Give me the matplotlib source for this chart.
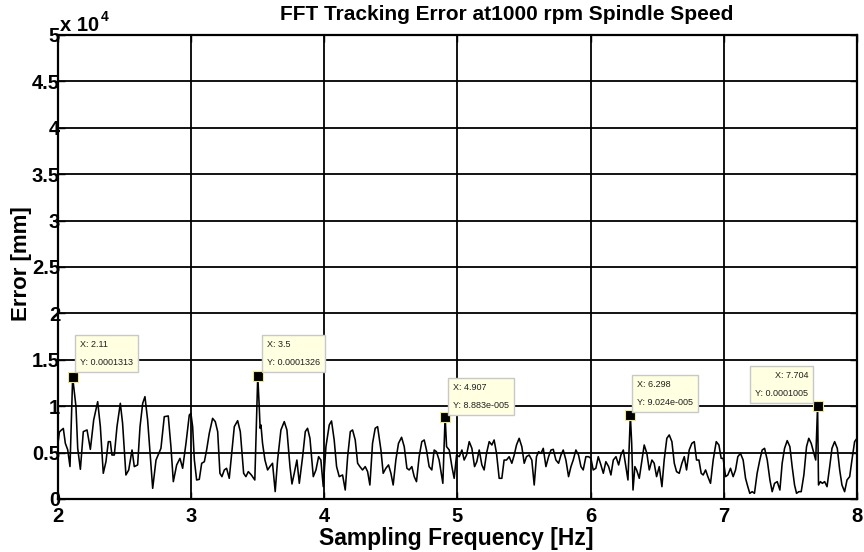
import matplotlib
matplotlib.use("Agg")
import matplotlib.pyplot as plt

plt.rcParams['font.family'] = ['Liberation Sans', 'DejaVu Sans']

# FFT magnitude of the tracking error (frequency in Hz, error in units of 1e-4 mm)
freq_hz = [
    2.000, 2.010, 2.023, 2.040, 2.055, 2.073, 2.090, 2.110, 2.135, 2.148, 2.168, 2.190, 2.218, 2.243,
    2.268, 2.298, 2.318, 2.340, 2.360, 2.378, 2.393, 2.405, 2.423, 2.443, 2.468, 2.485, 2.510, 2.531,
    2.556, 2.573, 2.598, 2.616, 2.636, 2.653, 2.673, 2.711, 2.736, 2.773, 2.798, 2.828, 2.848, 2.866,
    2.891, 2.916, 2.936, 2.961, 2.986, 2.998, 3.011, 3.024, 3.041, 3.061, 3.079, 3.099, 3.116, 3.136,
    3.161, 3.181,
    3.199, 3.216, 3.231, 3.249, 3.266, 3.286, 3.304, 3.324, 3.349, 3.369, 3.394, 3.411, 3.429, 3.452,
    3.478, 3.500, 3.510, 3.518, 3.524, 3.536, 3.554, 3.574, 3.591, 3.611, 3.631, 3.649, 3.674, 3.699,
    3.719, 3.742, 3.757, 3.774, 3.794, 3.812, 3.837, 3.857, 3.874, 3.892, 3.917, 3.937, 3.957, 3.974,
    3.992, 4.012, 4.037, 4.054, 4.074, 4.092, 4.112, 4.137, 4.157, 4.175, 4.195, 4.212, 4.232, 4.250,
    4.267, 4.287, 4.307, 4.325, 4.342, 4.362, 4.382, 4.400,
    4.425, 4.442, 4.462, 4.482, 4.500, 4.517, 4.537, 4.557, 4.580, 4.600, 4.620, 4.637, 4.657, 4.675,
    4.692, 4.712, 4.732, 4.750, 4.767, 4.787, 4.807, 4.825, 4.842, 4.862, 4.890, 4.907, 4.918, 4.938,
    4.958, 4.975, 4.993, 5.013, 5.033, 5.050, 5.068, 5.088, 5.108, 5.128, 5.145, 5.163, 5.183, 5.200,
    5.218, 5.238, 5.258, 5.275, 5.293, 5.313, 5.333, 5.350, 5.368, 5.388, 5.408, 5.426, 5.443, 5.463,
    5.483, 5.501, 5.518, 5.538, 5.558, 5.576, 5.593,
    5.609, 5.627, 5.644, 5.664, 5.684, 5.702, 5.719, 5.739, 5.759, 5.777, 5.794, 5.814, 5.834, 5.852,
    5.869, 5.889, 5.909, 5.927, 5.944, 5.964, 5.984, 6.002, 6.019, 6.039, 6.057, 6.077, 6.095, 6.114,
    6.135, 6.152, 6.170, 6.190, 6.210, 6.227, 6.245, 6.280, 6.298, 6.308, 6.318, 6.332, 6.345, 6.365,
    6.385, 6.402, 6.422, 6.440, 6.460, 6.477, 6.495, 6.515, 6.535, 6.552, 6.572, 6.590, 6.610, 6.628,
    6.645, 6.665, 6.685, 6.703, 6.720, 6.740, 6.760, 6.778, 6.795,
    6.813, 6.830, 6.845, 6.863, 6.880, 6.900, 6.920, 6.943, 6.963, 6.980, 6.995, 7.013, 7.030, 7.050,
    7.070, 7.088, 7.105, 7.125, 7.145, 7.163, 7.180, 7.195, 7.213, 7.230, 7.250, 7.270, 7.288, 7.306,
    7.326, 7.346, 7.363, 7.381, 7.401, 7.421, 7.438, 7.456, 7.476, 7.496, 7.513, 7.531, 7.546, 7.563,
    7.581, 7.601, 7.621, 7.638, 7.656, 7.690, 7.704, 7.711, 7.725, 7.740, 7.757, 7.775, 7.795, 7.812,
    7.832, 7.852, 7.870, 7.887, 7.907, 7.925, 7.945, 7.962, 7.982, 8.000,
]

error_e4 = [
    0.600, 0.720, 0.740, 0.760, 0.600, 0.530, 0.350, 1.313, 0.995, 0.546, 0.320, 0.726, 0.744, 0.535,
    0.852, 1.049, 0.780, 0.277, 0.402, 0.618, 0.618, 0.474, 0.474, 0.780, 1.031, 0.816, 0.259, 0.313,
    0.528, 0.349, 0.367, 0.780, 1.031, 1.103, 0.852, 0.115, 0.420, 0.546, 0.887, 0.895, 0.564, 0.187,
    0.367, 0.438, 0.331, 0.600, 0.905, 0.923, 0.780, 0.420, 0.205, 0.212, 0.385, 0.402, 0.528, 0.708,
    0.869, 0.834,
    0.726, 0.277, 0.241, 0.313, 0.331, 0.223, 0.492, 0.780, 0.844, 0.726, 0.277, 0.241, 0.295, 0.259,
    0.205, 1.326, 1.031, 0.762, 0.798, 0.600, 0.420, 0.313, 0.349, 0.385, 0.080, 0.420, 0.744, 0.834,
    0.744, 0.349, 0.162, 0.277, 0.420, 0.169, 0.456, 0.726, 0.762, 0.654, 0.241, 0.313, 0.456, 0.420,
    0.133, 0.564, 0.798, 0.841, 0.636, 0.349, 0.241, 0.259, 0.097, 0.456, 0.726, 0.744, 0.636, 0.385,
    0.349, 0.313, 0.349, 0.295, 0.151, 0.600, 0.762, 0.780,
    0.528, 0.277, 0.331, 0.367, 0.277, 0.151, 0.420, 0.600, 0.665, 0.564, 0.331, 0.313, 0.349, 0.241,
    0.187, 0.456, 0.618, 0.636, 0.528, 0.349, 0.313, 0.528, 0.510, 0.420, 0.169, 0.8883, 0.564, 0.528,
    0.349, 0.223, 0.474, 0.456, 0.528, 0.420, 0.474, 0.618, 0.546, 0.349, 0.402, 0.528, 0.367, 0.313,
    0.492, 0.618, 0.582, 0.636, 0.492, 0.223, 0.223, 0.420, 0.420, 0.456, 0.385, 0.474, 0.582, 0.654,
    0.564, 0.385, 0.456, 0.474, 0.420, 0.151, 0.456,
    0.510, 0.492, 0.546, 0.349, 0.456, 0.528, 0.535, 0.420, 0.385, 0.474, 0.528, 0.420, 0.241, 0.349,
    0.420, 0.528, 0.474, 0.349, 0.313, 0.456, 0.456, 0.438, 0.313, 0.331, 0.456, 0.367, 0.277, 0.402,
    0.349, 0.259, 0.420, 0.456, 0.367, 0.474, 0.528, 0.205, 0.9024, 0.600, 0.097, 0.349, 0.313, 0.223,
    0.420, 0.582, 0.492, 0.313, 0.420, 0.385, 0.241, 0.349, 0.133, 0.420, 0.654, 0.690, 0.618, 0.385,
    0.295, 0.277, 0.385, 0.456, 0.313, 0.528, 0.600, 0.618, 0.420,
    0.420, 0.277, 0.259, 0.313, 0.241, 0.169, 0.420, 0.618, 0.582, 0.438, 0.438, 0.241, 0.259, 0.331,
    0.241, 0.313, 0.456, 0.492, 0.420, 0.223, 0.133, 0.061, 0.079, 0.061, 0.277, 0.420, 0.528, 0.546,
    0.420, 0.205, 0.079, 0.169, 0.187, 0.097, 0.385, 0.546, 0.629, 0.564, 0.349, 0.151, 0.061, 0.079,
    0.079, 0.259, 0.564, 0.654, 0.600, 0.420, 1.005, 0.151, 0.187, 0.169, 0.187, 0.133, 0.349, 0.546,
    0.618, 0.546, 0.313, 0.151, 0.079, 0.205, 0.241, 0.420, 0.618, 0.654,
]

# Data tips on the dominant peaks
tip_freq = [2.11, 3.5, 4.907, 6.298, 7.704]
tip_error = [1.313, 1.326, 0.8883, 0.9024, 1.005]
tip_x_text = ["2.11", "3.5", "4.907", "6.298", "7.704"]
tip_y_text = ["0.0001313", "0.0001326", "8.883e-005", "9.024e-005", "0.0001005"]
tip_offsets = [(7, 10, 'left'), (9, 9, 'left'), (8, 6.5, 'left'), (7, 8, 'left'), (-9.5, 7.5, 'right')]

x_ticks = [2, 3, 4, 5, 6, 7, 8]
y_ticks = [0, 0.5, 1, 1.5, 2, 2.5, 3, 3.5, 4, 4.5, 5]

fig = plt.figure(figsize=(8.64, 5.52), dpi=100)
ax = fig.add_axes([58 / 864, 1 - 499 / 552, (857 - 58) / 864, (499 - 35) / 552])

ax.plot(freq_hz, error_e4, color='black', lw=1.15, zorder=3)
ax.plot(tip_freq, tip_error, linestyle='none', marker='s', markersize=6.5,
        markerfacecolor='black', markeredgecolor='#f0e68c', markeredgewidth=0.8, zorder=5)

for fx, fy, xs, ys, (dx, dy, ha) in zip(tip_freq, tip_error, tip_x_text, tip_y_text, tip_offsets):
    ax.annotate(f"X: {xs}\nY: {ys}", xy=(fx, fy), xytext=(dx, dy), textcoords='offset pixels',
                ha=ha, va='bottom', fontsize=6.5, linespacing=2.3, color='#202020', zorder=6,
                bbox=dict(boxstyle='square,pad=0.55', facecolor='#ffffe1', edgecolor='#c8c8c8', lw=1))

ax.set_xlim(2, 8)
ax.set_ylim(0, 5)
ax.set_xticks(x_ticks)
ax.set_yticks(y_ticks)
ax.set_xticklabels([f"{v:g}" for v in x_ticks])
ax.set_yticklabels([f"{v:g}" for v in y_ticks])
ax.tick_params(direction='in', length=5, width=1, top=True, right=True, labelsize=14.5)
ax.tick_params(axis='y', pad=-1.5)
ax.tick_params(axis='x', pad=5.5)
for lab in ax.get_xticklabels() + ax.get_yticklabels():
    lab.set_fontweight('bold')

ax.grid(True, color='black', lw=1.3, linestyle='-')
ax.set_axisbelow(True)
for sp in ax.spines.values():
    sp.set_linewidth(1.6)
    sp.set_color('black')

# Exponent note above the y axis
fig.text(60 / 864, 1 - 31 / 552, "x 10", fontsize=14.5, fontweight='bold', ha='left', va='baseline')
fig.text(101 / 864, 1 - 21 / 552, "4", fontsize=10, fontweight='bold', ha='left', va='baseline')

fig.text(507 / 864, 1 - 15 / 552, "FFT Tracking Error at1000 rpm Spindle Speed",
         fontsize=15, fontweight='bold', ha='center', va='center')
fig.text(456 / 864, 1 - 538 / 552, "Sampling Frequency [Hz]",
         fontsize=16.5, fontweight='bold', ha='center', va='center')
fig.text(22 / 864, 1 - 264 / 552, "Error [mm]", rotation=90,
         fontsize=16, fontweight='bold', ha='center', va='center')

fig.savefig("out.png", dpi=100, facecolor='white')
